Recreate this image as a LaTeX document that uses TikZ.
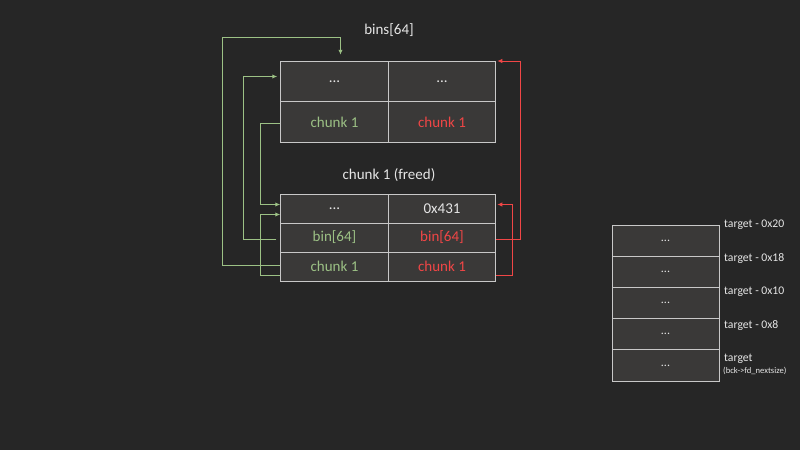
\documentclass[tikz,border=0pt]{standalone}
\usepackage{fontspec}
\setmainfont{Carlito}
\usetikzlibrary{arrows.meta}
\definecolor{bgc}{HTML}{262626}
\definecolor{cellc}{HTML}{3A3938}
\definecolor{linec}{HTML}{C8C8C8}
\definecolor{txtc}{HTML}{E6E6E6}
\definecolor{gc}{HTML}{9CC185}
\definecolor{rc}{HTML}{F04646}
\tikzset{
  cell/.style={draw=linec, line width=1pt, fill=cellc, minimum width=107.5pt, inner sep=0pt, font=\fontsize{15}{17}\selectfont, text=txtc},
  bigcell/.style={cell, minimum height=40.5pt},
  midcell/.style={cell, minimum height=29pt},
  stackcell/.style={cell, minimum width=107pt, minimum height=31.2pt, font=\fontsize{12}{14}\selectfont},
  title/.style={font=\fontsize{15}{17}\selectfont, text=txtc},
  tlabel/.style={anchor=west, inner sep=0pt, font=\fontsize{11.7}{13}\selectfont, text=txtc},
  gline/.style={draw=gc, line width=1pt, -{Latex[length=5pt,width=4.5pt]}},
  rline/.style={draw=rc, line width=1pt, -{Latex[length=5pt,width=4.5pt]}},
}
\begin{document}
\begin{tikzpicture}[x=1pt,y=-1pt]
\fill[bgc] (0,0) rectangle (800,450);
\useasboundingbox (0,0) rectangle (800,450);

% top table
\node[title] (tt) at (389,30) {bins[64]};
\node[bigcell] (t11) at (334.5,81.5) {...};
\node[bigcell] (t12) at (442,81.5) {...};
\node[bigcell, text=gc] (t21) at (334.5,122) {chunk 1};
\node[bigcell, text=rc] (t22) at (442,122) {chunk 1};

% bottom table
\node[title] (bt) at (389,175) {chunk 1 (freed)};
\node[midcell] (b11) at (334.5,208.5) {...};
\node[midcell] (b12) at (442,208.5) {0x431};
\node[midcell, text=gc] (b21) at (334.5,237.5) {bin[64]};
\node[midcell, text=rc] (b22) at (442,237.5) {bin[64]};
\node[midcell, text=gc] (b31) at (334.5,266.5) {chunk 1};
\node[midcell, text=rc] (b32) at (442,266.5) {chunk 1};

% green connectors
\draw[gline] ([yshift=1]b31.west) -- ++(-58.25,0) |- ([xshift=6,yshift=23.75]t11.north) -- ([xshift=6,yshift=6]t11.north);
\draw[gline] ([xshift=-4,yshift=-2]b21.west) -- ++(-33.25,0) |- ([xshift=-3,yshift=5]t11.west);
\draw[gline] ([yshift=-1.5]t21.west) -- ++(-20.25,0) |- ([yshift=4]b11.west);
\draw[gline] ([yshift=-9]b31.west) -- ++(-20.25,0) |- ([yshift=-6]b11.west);

% red connectors
\draw[rline] ([yshift=-2]b22.east) -- ++(23.75,0) |- ([xshift=1,yshift=-0.25]t12.north east);
\draw[rline] ([yshift=-9]b32.east) -- ++(15.75,0) |- ([xshift=1,yshift=4]b12.east);

% right stack
\node[stackcell] (s1) at (665.5,240.6) {...};
\node[stackcell] (s2) at (665.5,271.8) {...};
\node[stackcell] (s3) at (665.5,303) {...};
\node[stackcell] (s4) at (665.5,334.2) {...};
\node[stackcell] (s5) at (665.5,365.4) {...};

\node[tlabel] (l1) at (724,225) {target - 0x20};
\node[tlabel] (l2) at (724,259) {target - 0x18};
\node[tlabel] (l3) at (724,292) {target - 0x10};
\node[tlabel] (l4) at (724,326) {target - 0x8};
\node[tlabel] (l5) at (724,358.5) {target};
\node[tlabel, font=\fontsize{8.6}{10}\selectfont] (l6) at (723,371) {(bck->fd\_nextsize)};
\end{tikzpicture}
\end{document}
